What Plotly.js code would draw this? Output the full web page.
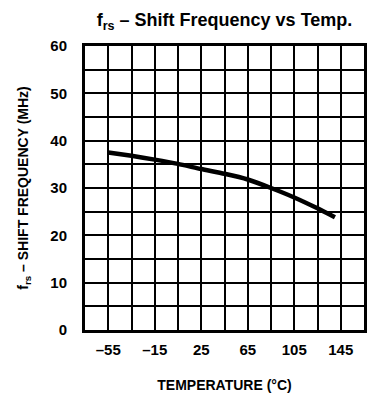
<!DOCTYPE html>
<html>
<head>
<meta charset="utf-8">
<script src="https://cdn.plot.ly/plotly-3.0.1.min.js"></script>
<style>html,body{margin:0;padding:0;background:#fff;}#chart{width:369px;height:401px;}</style>
</head>
<body>
<div id="chart"></div>
<script>
// Temperature (°C) and shift frequency (MHz)
const temperature = [-55, -35, -15, 5, 25, 45, 65, 85, 105, 125, 140];
const shiftFreq   = [37.5, 36.8, 36.0, 35.1, 34.0, 33.0, 31.8, 30.0, 28.0, 25.7, 23.8];

const xTickVals = [-55, -15, 25, 65, 105, 145];
const xTickText = ['–55', '–15', '25', '65', '105', '145'];
const yTickVals = [0, 10, 20, 30, 40, 50, 60];
const yTickText = ['0', '10', '20', '30', '40', '50', '60'];

const sans = '"Liberation Sans", Arial, sans-serif';

const trace = {
  x: temperature,
  y: shiftFreq,
  type: 'scatter',
  mode: 'lines',
  line: {color: '#000', width: 4.5, shape: 'spline', smoothing: 0.6},
  hoverinfo: 'skip'
};

const layout = {
  width: 369, height: 401,
  margin: {l: 85, r: 5, t: 46, b: 71},
  paper_bgcolor: '#fff', plot_bgcolor: '#fff',
  showlegend: false,
  title: {
    text: '<b>f<sub>rs</sub> – Shift Frequency vs Temp.</b>',
    font: {family: sans, size: 18, color: '#000'},
    x: 0.5, xref: 'paper', xanchor: 'center',
    y: 0.95, yref: 'container', yanchor: 'middle'
  },
  xaxis: {
    range: [-75, 165],
    tickmode: 'array', tickvals: xTickVals, ticktext: xTickText,
    ticks: '', ticklabelstandoff: 4,
    tickfont: {family: sans, size: 15, color: '#000', weight: 'bold'},
    showgrid: true, gridcolor: '#000', gridwidth: 2,
    minor: {tickmode: 'linear', tick0: -75, dtick: 20, showgrid: true, gridcolor: '#000', gridwidth: 2, ticks: ''},
    showline: true, mirror: true, linecolor: '#000', linewidth: 3,
    zeroline: false, fixedrange: true,
    title: {text: '<b>TEMPERATURE (°C)</b>', font: {family: sans, size: 14, color: '#000'}, standoff: 24}
  },
  yaxis: {
    range: [0, 60],
    tickmode: 'array', tickvals: yTickVals, ticktext: yTickText,
    ticks: '', ticklabelstandoff: 12,
    tickfont: {family: sans, size: 15, color: '#000', weight: 'bold'},
    showgrid: true, gridcolor: '#000', gridwidth: 2,
    minor: {tickmode: 'linear', tick0: 0, dtick: 5, showgrid: true, gridcolor: '#000', gridwidth: 2, ticks: ''},
    showline: true, mirror: true, linecolor: '#000', linewidth: 3,
    zeroline: false, fixedrange: true,
    title: {text: '<b>f<sub>rs</sub> – SHIFT FREQUENCY (MHz)</b>', font: {family: sans, size: 14, color: '#000'}, standoff: 19}
  }
};

Plotly.newPlot('chart', [trace], layout, {staticPlot: true, displayModeBar: false});
</script>
</body>
</html>
